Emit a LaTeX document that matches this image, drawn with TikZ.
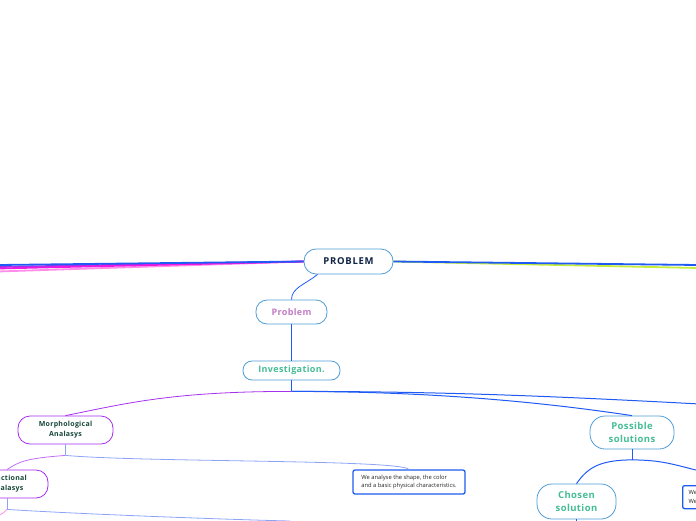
\documentclass[tikz,border=0pt]{standalone}
\usepackage{fontspec}
\setmainfont{Open Sans}
\newfontfamily\wideface[LetterSpace=8]{Open Sans}
\newfontfamily\midface[LetterSpace=4]{Open Sans}
\usetikzlibrary{positioning}
\definecolor{pillblue}{HTML}{4F9DD6}
\definecolor{navy}{HTML}{0E2244}
\definecolor{lilac}{HTML}{C27BC6}
\definecolor{mint}{HTML}{45BD96}
\definecolor{forest}{HTML}{17473A}
\definecolor{violetbd}{HTML}{A82BEE}
\definecolor{notebd}{HTML}{1E5CF0}
\definecolor{linkblue}{HTML}{1F5AF5}
\definecolor{paleblue}{HTML}{8CA4F8}
\definecolor{violetln}{HTML}{A630EE}
\definecolor{magln}{HTML}{EE18E0}
\definecolor{pinkln}{HTML}{FF8CE8}
\definecolor{limeln}{HTML}{C6EC3C}
\tikzset{
  pill/.style    ={draw=pillblue,line width=0.8pt,fill=white,inner sep=0pt,
                   align=center},
  rootnd/.style  ={pill,minimum width=89pt,minimum height=25pt,rounded corners=12pt,
                   text=navy,font=\wideface\bfseries\fontsize{9.5}{11}\selectfont},
  topic/.style   ={pill,minimum height=24pt,rounded corners=11pt,
                   font=\midface\bfseries\fontsize{9}{11}\selectfont},
  solnd/.style   ={pill,rounded corners=15pt,text=mint,
                   font=\midface\bfseries\fontsize{9.5}{13}\selectfont},
  anlnd/.style   ={pill,draw=violetbd,rounded corners=12pt,text=forest,
                   font=\midface\bfseries\fontsize{7}{10}\selectfont},
  note/.style    ={draw=notebd,line width=1.3pt,rounded corners=2pt,fill=white,
                   inner xsep=6pt,inner ysep=3.5pt,align=left,text=black!85,
                   font=\fontsize{5.8}{8.5}\selectfont},
  rootln/.style  ={line width=1.8pt},
  lnk/.style     ={draw=linkblue,line width=1pt},
  thin/.style    ={line width=0.8pt},
}

\begin{document}
\begin{tikzpicture}[x=1pt, y=-1pt]

\useasboundingbox (0,0) rectangle (696,520);
\clip (0,0) rectangle (696,520);

%% nodes
\node[rootnd] (root) at (348.5,261.5) {PROBLEM};
\node[topic,minimum width=71pt,text=lilac] (prob) at (291.5,312) {Problem};
\node[topic,minimum width=97pt,minimum height=19pt,rounded corners=9pt,text=mint]
      (inv) at (291.5,370.5) {Investigation.};

\node[anlnd,minimum width=95pt,minimum height=28pt] (morph) at (65.5,430)
      {Morphological\\Analasys};
\node[anlnd,minimum width=82pt,minimum height=28pt] (func) at (7,484)
      {Functional\\Analasys};
\node[note,minimum width=112pt,minimum height=24pt] (shape) at (409,482)
      {We analyse the shape, the color\\ and a basic physical characteristics.};

\node[solnd,minimum width=84pt,minimum height=33pt] (poss) at (632,432.5)
      {Possible\\solutions};
\node[solnd,minimum width=79pt,minimum height=35pt] (chosen) at (576.5,501.5)
      {Chosen\\solution};
\node[note,anchor=north west,text width=100pt,minimum height=23pt] (noteR)
      at (682,485) {We\\We};

%% branches leaving the canvas
\coordinate (L1) at (-2,265);
\coordinate (L2) at (-2,267);
\coordinate (L3) at (-2,268.5);
\coordinate (L4) at (-2,271.5);
\coordinate (R1) at (698,265);
\coordinate (R2) at (698,268);

\draw[rootln,pinkln]   (root.west) -- (L4);
\draw[rootln,violetln] (root.west) -- (L2);
\draw[rootln,magln]    (root.west) -- (L3);
\draw[rootln,linkblue] (root.west) -- (L1);
\draw[rootln,limeln]   (root.east) -- (R2);
\draw[rootln,linkblue] (root.east) -- (R1);

%% main trunk
\draw[lnk,thin] ([xshift=-31pt]root.south) .. controls +(-12,10) and +(0,-12) .. (prob.north);
\draw[lnk] (prob) -- (inv);
\path (inv.south) ++(0,11) coordinate (jinv);
\draw[lnk] (inv) -- (jinv);

\draw[thin,violetln] (jinv) .. controls +(-120,0) and +(60,-12) .. (morph.north);
\draw[lnk] (jinv) .. controls +(150,0) and +(-80,-12) .. (poss.north);
\coordinate (R3) at (700,404);
\draw[lnk] (jinv) .. controls +(150,0) and +(-150,-8) .. (R3);

%% analysis branch
\path (morph.south) ++(0,11) coordinate (jmorph);
\draw[thin,paleblue] (morph) -- (jmorph);
\draw[thin,violetln!70] (jmorph) .. controls +(-40,3) and +(12,-8) .. (func.north);
\draw[thin,paleblue] (jmorph) .. controls +(80,7) and +(-10,-10) .. (shape.north);

\path (func.south) ++(0,11) coordinate (jfunc);
\coordinate (F1) at (-6,518);
\coordinate (F2) at (290,521);
\draw[thin,paleblue] (func) -- (jfunc);
\draw[thin,pinkln] (jfunc) .. controls +(-4,4) .. (F1);
\draw[thin,paleblue] (jfunc) .. controls +(60,4) and +(-80,-2) .. (F2);

%% solutions branch
\path (poss.south) ++(0,10.5) coordinate (jposs);
\coordinate (S1) at (700,471);
\coordinate (cdown) at (576.5,530);
\draw[lnk] (poss) -- (jposs);
\draw[lnk] (jposs) .. controls +(-35,0) and +(10,-14) .. (chosen.north);
\draw[lnk] (jposs) .. controls +(30,0) and +(-25,-6) .. (S1);
\draw[lnk] (chosen) -- (cdown);

\end{tikzpicture}
\end{document}
